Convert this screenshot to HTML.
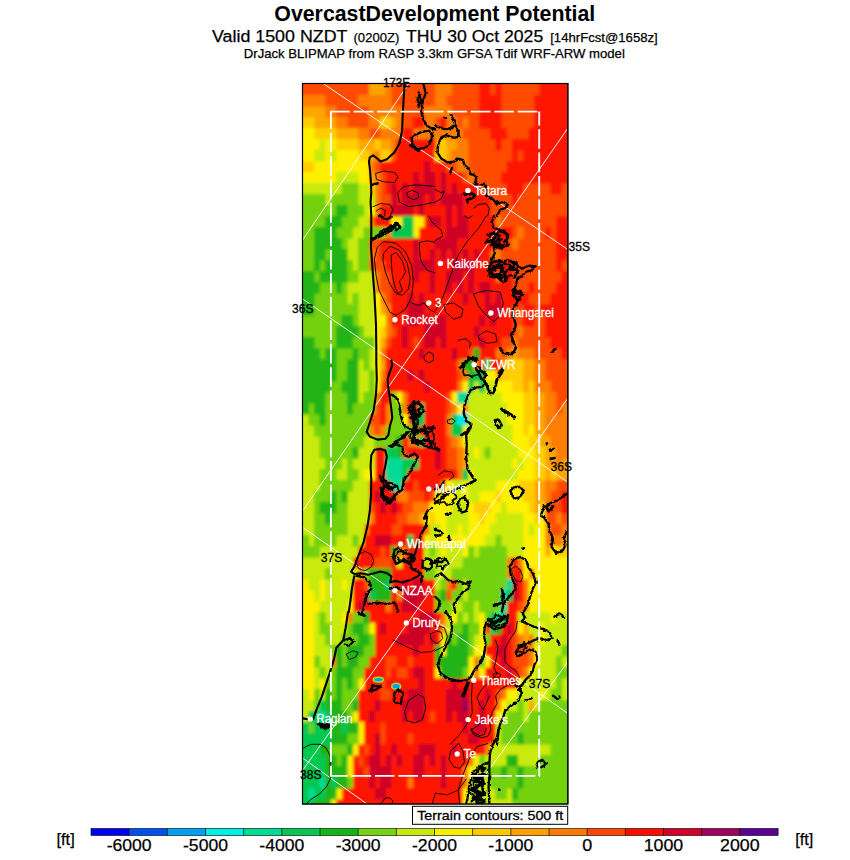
<!DOCTYPE html>
<html><head><meta charset="utf-8"><title>Overcast Development Potential</title>
<style>html,body{margin:0;padding:0;background:#fff;}svg{display:block}text{font-family:"Liberation Sans",sans-serif;}</style></head><body>
<svg width="850" height="860" viewBox="0 0 850 860">
<rect width="850" height="860" fill="#fff"/>
<text x="274.3" y="21.2" font-size="22" font-weight="bold" textLength="321" lengthAdjust="spacingAndGlyphs">OvercastDevelopment Potential</text>
<text x="212" y="42.2" font-size="17.4" textLength="135.4" lengthAdjust="spacingAndGlyphs" stroke="#000" stroke-width="0.25">Valid 1500 NZDT</text>
<text x="353.5" y="41.6" font-size="13" textLength="45.8" lengthAdjust="spacingAndGlyphs" stroke="#000" stroke-width="0.25">(0200Z)</text>
<text x="406" y="42.2" font-size="17.4" textLength="137.2" lengthAdjust="spacingAndGlyphs" stroke="#000" stroke-width="0.25">THU 30 Oct 2025</text>
<text x="550.2" y="42" font-size="13.4" textLength="107.6" lengthAdjust="spacingAndGlyphs" stroke="#000" stroke-width="0.25">[14hrFcst@1658z]</text>
<text x="243.8" y="57.6" font-size="12.7" textLength="381" lengthAdjust="spacingAndGlyphs" stroke="#000" stroke-width="0.25">DrJack BLIPMAP from RASP 3.3km GFSA Tdif WRF-ARW model</text>
<rect x="302.5" y="83.5" width="265.5" height="720.5" fill="#f33" stroke="#000" stroke-width="1"/>
<defs><clipPath id="mc"><rect x="302.5" y="83.5" width="265.5" height="720.5"/></clipPath><filter id="bl" x="-5%" y="-5%" width="110%" height="110%"><feGaussianBlur stdDeviation="1.6"/></filter></defs>
<g clip-path="url(#mc)"><g filter="url(#bl)">
<path fill="#ff4b00" d="M291 72h78.5v23.5h-78.5zM391 72h44.5v23.5h-44.5zM451.5 72h28v23.5h-28zM490 72h6v23.5h-6zM501 72h39v23.5h-39zM325 95h33.5v11.5h-33.5zM391 95h44.5v11.5h-44.5zM446 95h33.5v11.5h-33.5zM501 95h33.5v11.5h-33.5zM336 106h33.5v11.5h-33.5zM402 106h22.5v11.5h-22.5zM451.5 106h28v11.5h-28zM501 106h33.5v11.5h-33.5zM347 117h22.5v11.5h-22.5zM402 117h11.5v11.5h-11.5zM435 117h6v11.5h-6zM457 117h6v11.5h-6zM468 117h11.5v11.5h-11.5zM501 117h33.5v11.5h-33.5zM369 128h11.5v11.5h-11.5zM462.5 128h28v11.5h-28zM506.5 128h22.5v11.5h-22.5zM468 139h28v11.5h-28zM501 139h11.5v11.5h-11.5zM391 150h6v11.5h-6zM468 150h44.5v11.5h-44.5zM517.5 150h6v11.5h-6zM374.5 161h6v11.5h-6zM446 161h11.5v11.5h-11.5zM468 161h39v11.5h-39zM380 172h6v11.5h-6zM462.5 172h6v11.5h-6zM473.5 172h28v11.5h-28zM380 183h6v11.5h-6zM479 183h28v11.5h-28zM523 183h28v11.5h-28zM561.5 183h18v11.5h-18zM380 194h11.5v11.5h-11.5zM490 194h22.5v11.5h-22.5zM517.5 194h62v11.5h-62zM490 205h89.5v11.5h-89.5zM501 216h55.5v11.5h-55.5zM512 227h6v11.5h-6zM523 227h22.5v11.5h-22.5zM550.5 227h6v11.5h-6zM369 238h11.5v11.5h-11.5zM506.5 238h6v11.5h-6zM517.5 238h39v11.5h-39zM374.5 249h6v11.5h-6zM501 249h55.5v11.5h-55.5zM369 260h17v11.5h-17zM512 260h44.5v11.5h-44.5zM561.5 260h18v11.5h-18zM380 271h11.5v11.5h-11.5zM512 271h50v11.5h-50zM380 282h11.5v11.5h-11.5zM512 282h17v11.5h-17zM534 282h22.5v11.5h-22.5zM385.5 293h6v11.5h-6zM528.5 293h22.5v11.5h-22.5zM512 304h11.5v11.5h-11.5zM534 304h6v11.5h-6zM512 315h11.5v11.5h-11.5zM534 315h11.5v11.5h-11.5zM391 326h6v11.5h-6zM512 326h6v11.5h-6zM523 326h22.5v11.5h-22.5zM385.5 337h6v11.5h-6zM413 337h6v11.5h-6zM501 337h11.5v11.5h-11.5zM517.5 337h33.5v11.5h-33.5zM468 348h6v11.5h-6zM501 348h6v11.5h-6zM534 348h28v11.5h-28zM545 359h34.5v11.5h-34.5zM457 370h6v11.5h-6zM545 370h34.5v11.5h-34.5zM380 381h6v11.5h-6zM550.5 381h29v11.5h-29zM446 392h6v11.5h-6zM556 392h23.5v11.5h-23.5zM374.5 403h6v11.5h-6zM446 403h6v11.5h-6zM556 403h6v11.5h-6zM369 414h11.5v11.5h-11.5zM374.5 425h6v11.5h-6zM446 436h6v11.5h-6zM402 447h6v11.5h-6zM446 447h11.5v11.5h-11.5zM446 458h11.5v11.5h-11.5zM413 480h6v11.5h-6zM556 480h23.5v11.5h-23.5zM407.5 491h17v11.5h-17zM429.5 491h6v11.5h-6zM550.5 491h11.5v11.5h-11.5zM369 502h6v11.5h-6zM402 502h11.5v11.5h-11.5zM545 502h17v11.5h-17zM396.5 513h11.5v11.5h-11.5zM545 513h11.5v11.5h-11.5zM561.5 513h18v11.5h-18zM391 524h11.5v11.5h-11.5zM550.5 524h11.5v11.5h-11.5zM380 546h6v11.5h-6zM374.5 557h17v11.5h-17zM363.5 579h6v11.5h-6zM446 590h6v11.5h-6zM517.5 601h6v11.5h-6zM512 634h6v11.5h-6zM512 645h17v11.5h-17zM385.5 656h11.5v11.5h-11.5zM407.5 656h6v11.5h-6zM512 656h17v11.5h-17zM385.5 667h6v11.5h-6zM396.5 667h11.5v11.5h-11.5zM517.5 667h6v11.5h-6zM380 678h6v11.5h-6zM380 689h11.5v11.5h-11.5zM495.5 689h6v11.5h-6zM429.5 711h6v11.5h-6zM380 722h6v11.5h-6zM380 733h6v11.5h-6zM407.5 733h6v11.5h-6zM363.5 744h6v11.5h-6zM358 755h6v11.5h-6zM363.5 766h6v11.5h-6z"/>
<path fill="#ffa500" d="M369 72h17v23.5h-17zM291 106h34.5v11.5h-34.5zM314 117h22.5v11.5h-22.5zM391 117h6v11.5h-6zM336 128h22.5v11.5h-22.5zM358 139h17v11.5h-17zM380 139h11.5v11.5h-11.5zM435 139h6v11.5h-6zM446 139h11.5v11.5h-11.5zM369 150h6v11.5h-6zM446 150h6v11.5h-6zM369 172h6v11.5h-6zM380 304h6v11.5h-6zM380 337h6v11.5h-6zM512 348h6v11.5h-6zM380 359h6v11.5h-6zM501 359h6v11.5h-6zM523 359h11.5v11.5h-11.5zM495.5 370h6v11.5h-6zM523 370h11.5v11.5h-11.5zM523 381h6v11.5h-6zM534 392h11.5v11.5h-11.5zM534 403h11.5v11.5h-11.5zM534 414h11.5v11.5h-11.5zM534 425h11.5v11.5h-11.5zM457 436h6v11.5h-6zM539.5 436h11.5v11.5h-11.5zM462.5 447h6v11.5h-6zM545 447h11.5v11.5h-11.5zM462.5 458h6v11.5h-6zM545 458h11.5v11.5h-11.5zM561.5 458h18v11.5h-18zM545 469h6v11.5h-6zM556 469h23.5v11.5h-23.5zM534 480h11.5v11.5h-11.5zM534 491h11.5v11.5h-11.5zM534 502h6v11.5h-6zM418.5 513h6v11.5h-6zM561.5 535h18v11.5h-18zM545 546h6v11.5h-6zM440.5 623h6v11.5h-6zM523 623h6v11.5h-6zM523 634h6v11.5h-6zM528.5 700h6v11.5h-6z"/>
<path fill="#ff7d00" d="M385.5 72h6v23.5h-6zM435 72h17v23.5h-17zM291 95h34.5v11.5h-34.5zM358 95h33.5v11.5h-33.5zM435 95h11.5v11.5h-11.5zM325 106h11.5v11.5h-11.5zM369 106h33.5v11.5h-33.5zM424 106h28v11.5h-28zM336 117h11.5v11.5h-11.5zM369 117h11.5v11.5h-11.5zM396.5 117h6v11.5h-6zM424 117h11.5v11.5h-11.5zM446 117h11.5v11.5h-11.5zM462.5 117h6v11.5h-6zM358 128h11.5v11.5h-11.5zM380 128h22.5v11.5h-22.5zM413 128h50v11.5h-50zM391 139h6v11.5h-6zM457 139h11.5v11.5h-11.5zM374.5 150h6v11.5h-6zM451.5 150h17v11.5h-17zM369 161h6v11.5h-6zM457 161h11.5v11.5h-11.5zM374.5 172h6v11.5h-6zM468 172h6v11.5h-6zM374.5 183h6v11.5h-6zM374.5 194h6v11.5h-6zM374.5 205h6v11.5h-6zM369 216h6v11.5h-6zM495.5 216h6v11.5h-6zM385.5 227h6v11.5h-6zM517.5 227h6v11.5h-6zM512 238h6v11.5h-6zM369 249h6v11.5h-6zM490 249h11.5v11.5h-11.5zM374.5 271h6v11.5h-6zM495.5 271h6v11.5h-6zM374.5 282h6v11.5h-6zM380 293h6v11.5h-6zM385.5 304h6v11.5h-6zM385.5 315h6v11.5h-6zM385.5 326h6v11.5h-6zM517.5 326h6v11.5h-6zM512 337h6v11.5h-6zM380 348h6v11.5h-6zM495.5 348h6v11.5h-6zM506.5 348h6v11.5h-6zM517.5 348h17v11.5h-17zM457 359h6v11.5h-6zM473.5 359h6v11.5h-6zM534 359h11.5v11.5h-11.5zM380 370h6v11.5h-6zM462.5 370h6v11.5h-6zM534 370h11.5v11.5h-11.5zM457 381h6v11.5h-6zM534 381h17v11.5h-17zM374.5 392h6v11.5h-6zM402 392h6v11.5h-6zM545 392h11.5v11.5h-11.5zM385.5 403h6v11.5h-6zM402 403h6v11.5h-6zM451.5 403h6v11.5h-6zM462.5 403h6v11.5h-6zM545 403h11.5v11.5h-11.5zM561.5 403h18v11.5h-18zM385.5 414h6v11.5h-6zM446 414h6v11.5h-6zM545 414h34.5v11.5h-34.5zM369 425h6v11.5h-6zM380 425h6v11.5h-6zM446 425h6v11.5h-6zM545 425h34.5v11.5h-34.5zM407.5 436h11.5v11.5h-11.5zM451.5 436h6v11.5h-6zM550.5 436h29v11.5h-29zM457 447h6v11.5h-6zM556 447h23.5v11.5h-23.5zM457 458h6v11.5h-6zM556 458h6v11.5h-6zM457 469h6v11.5h-6zM440.5 480h6v11.5h-6zM545 480h11.5v11.5h-11.5zM396.5 491h11.5v11.5h-11.5zM545 491h6v11.5h-6zM413 502h17v11.5h-17zM369 513h6v11.5h-6zM407.5 513h11.5v11.5h-11.5zM556 513h6v11.5h-6zM363.5 524h6v11.5h-6zM424 524h6v11.5h-6zM545 524h6v11.5h-6zM561.5 524h18v11.5h-18zM545 535h17v11.5h-17zM396.5 546h11.5v11.5h-11.5zM506.5 557h6v11.5h-6zM517.5 557h6v11.5h-6zM358 568h6v11.5h-6zM506.5 568h6v11.5h-6zM528.5 568h6v11.5h-6zM446 579h6v11.5h-6zM523 579h6v11.5h-6zM396.5 590h6v11.5h-6zM523 590h6v11.5h-6zM385.5 601h6v11.5h-6zM523 601h6v11.5h-6zM347 612h6v11.5h-6zM440.5 612h6v11.5h-6zM517.5 634h6v11.5h-6zM528.5 634h6v11.5h-6zM528.5 645h6v11.5h-6zM330.5 656h6v11.5h-6zM473.5 656h6v11.5h-6zM528.5 656h6v11.5h-6zM473.5 667h6v11.5h-6zM523 667h6v11.5h-6zM501 689h6v11.5h-6zM495.5 700h6v11.5h-6zM484.5 744h6v11.5h-6zM468 755h6v11.5h-6zM462.5 766h6v11.5h-6zM407.5 777h6v11.5h-6zM462.5 777h6v11.5h-6z"/>
<path fill="#ff1400" d="M479 72h11.5v23.5h-11.5zM495.5 72h6v23.5h-6zM539.5 72h40v23.5h-40zM479 95h22.5v11.5h-22.5zM534 95h45.5v11.5h-45.5zM479 106h22.5v11.5h-22.5zM534 106h45.5v11.5h-45.5zM413 117h11.5v11.5h-11.5zM440.5 117h6v11.5h-6zM479 117h22.5v11.5h-22.5zM534 117h45.5v11.5h-45.5zM402 128h11.5v11.5h-11.5zM490 128h17v11.5h-17zM528.5 128h51v11.5h-51zM396.5 139h39v11.5h-39zM495.5 139h6v11.5h-6zM512 139h67.5v11.5h-67.5zM396.5 150h39v11.5h-39zM512 150h6v11.5h-6zM523 150h56.5v11.5h-56.5zM380 161h44.5v11.5h-44.5zM429.5 161h17v11.5h-17zM506.5 161h73v11.5h-73zM385.5 172h28v11.5h-28zM418.5 172h6v11.5h-6zM435 172h6v11.5h-6zM446 172h17v11.5h-17zM501 172h78.5v11.5h-78.5zM385.5 183h6v11.5h-6zM396.5 183h6v11.5h-6zM407.5 183h6v11.5h-6zM435 183h6v11.5h-6zM446 183h6v11.5h-6zM457 183h22.5v11.5h-22.5zM506.5 183h17v11.5h-17zM550.5 183h11.5v11.5h-11.5zM396.5 194h6v11.5h-6zM424 194h6v11.5h-6zM435 194h6v11.5h-6zM462.5 194h28v11.5h-28zM512 194h6v11.5h-6zM380 205h11.5v11.5h-11.5zM413 205h6v11.5h-6zM424 205h22.5v11.5h-22.5zM451.5 205h6v11.5h-6zM462.5 205h28v11.5h-28zM374.5 216h17v11.5h-17zM424 216h6v11.5h-6zM440.5 216h6v11.5h-6zM451.5 216h6v11.5h-6zM468 216h28v11.5h-28zM556 216h23.5v11.5h-23.5zM418.5 227h28v11.5h-28zM468 227h44.5v11.5h-44.5zM545 227h6v11.5h-6zM556 227h23.5v11.5h-23.5zM380 238h33.5v11.5h-33.5zM418.5 238h17v11.5h-17zM457 238h50v11.5h-50zM556 238h23.5v11.5h-23.5zM380 249h33.5v11.5h-33.5zM418.5 249h11.5v11.5h-11.5zM435 249h6v11.5h-6zM446 249h6v11.5h-6zM457 249h6v11.5h-6zM468 249h6v11.5h-6zM479 249h11.5v11.5h-11.5zM556 249h23.5v11.5h-23.5zM385.5 260h28v11.5h-28zM435 260h17v11.5h-17zM473.5 260h39v11.5h-39zM556 260h6v11.5h-6zM391 271h22.5v11.5h-22.5zM418.5 271h11.5v11.5h-11.5zM435 271h11.5v11.5h-11.5zM462.5 271h6v11.5h-6zM473.5 271h22.5v11.5h-22.5zM501 271h11.5v11.5h-11.5zM561.5 271h18v11.5h-18zM391 282h39v11.5h-39zM435 282h11.5v11.5h-11.5zM451.5 282h6v11.5h-6zM462.5 282h6v11.5h-6zM473.5 282h6v11.5h-6zM490 282h22.5v11.5h-22.5zM528.5 282h6v11.5h-6zM556 282h23.5v11.5h-23.5zM391 293h17v11.5h-17zM413 293h6v11.5h-6zM424 293h39v11.5h-39zM468 293h17v11.5h-17zM490 293h6v11.5h-6zM501 293h28v11.5h-28zM550.5 293h29v11.5h-29zM391 304h17v11.5h-17zM424 304h61v11.5h-61zM501 304h11.5v11.5h-11.5zM523 304h11.5v11.5h-11.5zM539.5 304h40v11.5h-40zM391 315h17v11.5h-17zM418.5 315h6v11.5h-6zM429.5 315h6v11.5h-6zM446 315h33.5v11.5h-33.5zM484.5 315h6v11.5h-6zM495.5 315h17v11.5h-17zM523 315h11.5v11.5h-11.5zM545 315h34.5v11.5h-34.5zM396.5 326h6v11.5h-6zM407.5 326h17v11.5h-17zM446 326h28v11.5h-28zM479 326h33.5v11.5h-33.5zM545 326h34.5v11.5h-34.5zM391 337h11.5v11.5h-11.5zM407.5 337h6v11.5h-6zM418.5 337h6v11.5h-6zM435 337h6v11.5h-6zM446 337h33.5v11.5h-33.5zM484.5 337h17v11.5h-17zM550.5 337h29v11.5h-29zM385.5 348h33.5v11.5h-33.5zM424 348h28v11.5h-28zM457 348h11.5v11.5h-11.5zM479 348h17v11.5h-17zM561.5 348h18v11.5h-18zM385.5 359h72v11.5h-72zM479 359h6v11.5h-6zM490 359h11.5v11.5h-11.5zM385.5 370h22.5v11.5h-22.5zM413 370h6v11.5h-6zM424 370h33.5v11.5h-33.5zM385.5 381h39v11.5h-39zM429.5 381h28v11.5h-28zM380 392h11.5v11.5h-11.5zM407.5 392h39v11.5h-39zM380 403h6v11.5h-6zM407.5 403h11.5v11.5h-11.5zM424 403h22.5v11.5h-22.5zM380 414h6v11.5h-6zM407.5 414h6v11.5h-6zM424 414h22.5v11.5h-22.5zM418.5 425h28v11.5h-28zM402 436h6v11.5h-6zM424 436h22.5v11.5h-22.5zM374.5 447h11.5v11.5h-11.5zM407.5 447h28v11.5h-28zM440.5 447h6v11.5h-6zM374.5 458h11.5v11.5h-11.5zM418.5 458h17v11.5h-17zM440.5 458h6v11.5h-6zM374.5 469h11.5v11.5h-11.5zM407.5 469h50v11.5h-50zM369 480h17v11.5h-17zM402 480h11.5v11.5h-11.5zM418.5 480h22.5v11.5h-22.5zM369 491h6v11.5h-6zM380 491h17v11.5h-17zM424 491h6v11.5h-6zM561.5 491h18v11.5h-18zM374.5 502h6v11.5h-6zM385.5 502h6v11.5h-6zM396.5 502h6v11.5h-6zM561.5 502h18v11.5h-18zM374.5 513h22.5v11.5h-22.5zM369 524h22.5v11.5h-22.5zM402 524h22.5v11.5h-22.5zM363.5 535h11.5v11.5h-11.5zM391 535h17v11.5h-17zM413 535h11.5v11.5h-11.5zM358 546h22.5v11.5h-22.5zM385.5 546h6v11.5h-6zM407.5 546h17v11.5h-17zM352.5 557h22.5v11.5h-22.5zM391 557h6v11.5h-6zM402 557h22.5v11.5h-22.5zM512 557h6v11.5h-6zM391 568h33.5v11.5h-33.5zM512 568h11.5v11.5h-11.5zM352.5 579h11.5v11.5h-11.5zM391 579h11.5v11.5h-11.5zM407.5 579h6v11.5h-6zM424 579h11.5v11.5h-11.5zM451.5 579h6v11.5h-6zM517.5 579h6v11.5h-6zM352.5 590h11.5v11.5h-11.5zM391 590h6v11.5h-6zM424 590h11.5v11.5h-11.5zM517.5 590h6v11.5h-6zM352.5 601h6v11.5h-6zM363.5 601h22.5v11.5h-22.5zM391 601h11.5v11.5h-11.5zM418.5 601h17v11.5h-17zM506.5 601h11.5v11.5h-11.5zM369 612h50v11.5h-50zM435 612h6v11.5h-6zM506.5 612h11.5v11.5h-11.5zM374.5 623h6v11.5h-6zM385.5 623h22.5v11.5h-22.5zM429.5 623h11.5v11.5h-11.5zM484.5 623h6v11.5h-6zM501 623h6v11.5h-6zM512 623h6v11.5h-6zM374.5 634h22.5v11.5h-22.5zM424 634h6v11.5h-6zM435 634h6v11.5h-6zM490 634h11.5v11.5h-11.5zM506.5 634h6v11.5h-6zM374.5 645h39v11.5h-39zM418.5 645h17v11.5h-17zM484.5 645h11.5v11.5h-11.5zM506.5 645h6v11.5h-6zM369 656h17v11.5h-17zM396.5 656h11.5v11.5h-11.5zM413 656h22.5v11.5h-22.5zM490 656h11.5v11.5h-11.5zM506.5 656h6v11.5h-6zM363.5 667h22.5v11.5h-22.5zM391 667h6v11.5h-6zM407.5 667h6v11.5h-6zM424 667h11.5v11.5h-11.5zM484.5 667h22.5v11.5h-22.5zM512 667h6v11.5h-6zM363.5 678h17v11.5h-17zM385.5 678h33.5v11.5h-33.5zM424 678h28v11.5h-28zM457 678h61v11.5h-61zM358 689h22.5v11.5h-22.5zM391 689h17v11.5h-17zM424 689h22.5v11.5h-22.5zM468 689h17v11.5h-17zM490 689h6v11.5h-6zM358 700h17v11.5h-17zM380 700h22.5v11.5h-22.5zM424 700h22.5v11.5h-22.5zM468 700h11.5v11.5h-11.5zM484.5 700h11.5v11.5h-11.5zM358 711h11.5v11.5h-11.5zM374.5 711h28v11.5h-28zM407.5 711h6v11.5h-6zM424 711h6v11.5h-6zM435 711h11.5v11.5h-11.5zM451.5 711h6v11.5h-6zM468 711h11.5v11.5h-11.5zM484.5 711h11.5v11.5h-11.5zM363.5 722h17v11.5h-17zM385.5 722h77.5v11.5h-77.5zM468 722h6v11.5h-6zM484.5 722h11.5v11.5h-11.5zM363.5 733h11.5v11.5h-11.5zM385.5 733h22.5v11.5h-22.5zM413 733h55.5v11.5h-55.5zM479 733h17v11.5h-17zM358 744h6v11.5h-6zM369 744h6v11.5h-6zM380 744h11.5v11.5h-11.5zM396.5 744h22.5v11.5h-22.5zM435 744h17v11.5h-17zM457 744h28v11.5h-28zM352.5 755h6v11.5h-6zM363.5 755h6v11.5h-6zM380 755h6v11.5h-6zM391 755h6v11.5h-6zM402 755h11.5v11.5h-11.5zM424 755h6v11.5h-6zM435 755h6v11.5h-6zM446 755h22.5v11.5h-22.5zM352.5 766h11.5v11.5h-11.5zM391 766h22.5v11.5h-22.5zM424 766h17v11.5h-17zM446 766h17v11.5h-17zM352.5 777h17v11.5h-17zM374.5 777h6v11.5h-6zM391 777h17v11.5h-17zM413 777h28v11.5h-28zM446 777h17v11.5h-17zM341.5 788h33.5v11.5h-33.5zM385.5 788h77.5v11.5h-77.5zM336 799h127v23.5h-127z"/>
<path fill="#ffcd00" d="M291 117h23.5v11.5h-23.5zM380 117h11.5v11.5h-11.5zM314 128h22.5v11.5h-22.5zM336 139h22.5v11.5h-22.5zM374.5 139h6v11.5h-6zM440.5 139h6v11.5h-6zM358 150h11.5v11.5h-11.5zM380 150h11.5v11.5h-11.5zM435 150h11.5v11.5h-11.5zM291 161h23.5v11.5h-23.5zM369 183h6v11.5h-6zM380 326h6v11.5h-6zM506.5 359h17v11.5h-17zM501 370h22.5v11.5h-22.5zM512 381h11.5v11.5h-11.5zM528.5 381h6v11.5h-6zM523 392h11.5v11.5h-11.5zM523 403h11.5v11.5h-11.5zM523 414h11.5v11.5h-11.5zM523 425h6v11.5h-6zM528.5 436h11.5v11.5h-11.5zM534 447h11.5v11.5h-11.5zM534 458h11.5v11.5h-11.5zM534 469h11.5v11.5h-11.5zM550.5 469h6v11.5h-6zM517.5 480h17v11.5h-17zM495.5 491h6v11.5h-6zM523 491h11.5v11.5h-11.5zM473.5 502h17v11.5h-17zM528.5 502h6v11.5h-6zM539.5 502h6v11.5h-6zM429.5 513h6v11.5h-6zM479 513h6v11.5h-6zM534 513h6v11.5h-6zM556 546h23.5v11.5h-23.5z"/>
<path fill="#fff000" d="M291 128h23.5v11.5h-23.5zM291 139h29v11.5h-29zM325 139h11.5v11.5h-11.5zM291 150h23.5v11.5h-23.5zM325 150h6v11.5h-6zM336 150h22.5v11.5h-22.5zM314 161h55.5v11.5h-55.5zM291 172h45.5v11.5h-45.5zM358 172h11.5v11.5h-11.5zM369 205h6v11.5h-6zM391 216h11.5v11.5h-11.5zM413 216h11.5v11.5h-11.5zM413 227h6v11.5h-6zM374.5 293h6v11.5h-6zM374.5 304h6v11.5h-6zM374.5 315h11.5v11.5h-11.5zM374.5 326h6v11.5h-6zM374.5 337h6v11.5h-6zM374.5 348h6v11.5h-6zM374.5 359h6v11.5h-6zM374.5 370h6v11.5h-6zM484.5 370h11.5v11.5h-11.5zM374.5 381h6v11.5h-6zM462.5 381h6v11.5h-6zM495.5 381h17v11.5h-17zM396.5 392h6v11.5h-6zM451.5 392h6v11.5h-6zM501 392h22.5v11.5h-22.5zM457 403h6v11.5h-6zM506.5 403h17v11.5h-17zM402 414h6v11.5h-6zM506.5 414h17v11.5h-17zM462.5 425h6v11.5h-6zM512 425h11.5v11.5h-11.5zM528.5 425h6v11.5h-6zM462.5 436h6v11.5h-6zM512 436h17v11.5h-17zM473.5 447h6v11.5h-6zM517.5 447h17v11.5h-17zM512 458h6v11.5h-6zM523 458h11.5v11.5h-11.5zM363.5 469h11.5v11.5h-11.5zM468 469h6v11.5h-6zM517.5 469h17v11.5h-17zM446 480h6v11.5h-6zM462.5 480h6v11.5h-6zM495.5 480h22.5v11.5h-22.5zM435 491h22.5v11.5h-22.5zM462.5 491h6v11.5h-6zM479 491h17v11.5h-17zM501 491h22.5v11.5h-22.5zM429.5 502h22.5v11.5h-22.5zM468 502h6v11.5h-6zM490 502h11.5v11.5h-11.5zM506.5 502h22.5v11.5h-22.5zM424 513h6v11.5h-6zM435 513h11.5v11.5h-11.5zM468 513h11.5v11.5h-11.5zM484.5 513h11.5v11.5h-11.5zM523 513h11.5v11.5h-11.5zM539.5 513h6v11.5h-6zM440.5 524h6v11.5h-6zM457 524h6v11.5h-6zM468 524h22.5v11.5h-22.5zM523 524h6v11.5h-6zM534 524h11.5v11.5h-11.5zM424 535h6v11.5h-6zM435 535h50v11.5h-50zM523 535h22.5v11.5h-22.5zM440.5 546h6v11.5h-6zM462.5 546h6v11.5h-6zM523 546h22.5v11.5h-22.5zM550.5 546h6v11.5h-6zM523 557h56.5v11.5h-56.5zM523 568h6v11.5h-6zM534 568h45.5v11.5h-45.5zM291 579h18v11.5h-18zM319.5 579h6v11.5h-6zM341.5 579h6v11.5h-6zM528.5 579h51v11.5h-51zM291 590h23.5v11.5h-23.5zM319.5 590h6v11.5h-6zM528.5 590h51v11.5h-51zM291 601h29v11.5h-29zM347 601h6v11.5h-6zM528.5 601h51v11.5h-51zM291 612h23.5v11.5h-23.5zM341.5 612h6v11.5h-6zM451.5 612h6v11.5h-6zM479 612h6v11.5h-6zM550.5 612h6v11.5h-6zM291 623h23.5v11.5h-23.5zM369 623h6v11.5h-6zM479 623h6v11.5h-6zM517.5 623h6v11.5h-6zM539.5 623h6v11.5h-6zM291 634h23.5v11.5h-23.5zM440.5 634h6v11.5h-6zM479 634h6v11.5h-6zM539.5 634h6v11.5h-6zM291 645h23.5v11.5h-23.5zM440.5 645h6v11.5h-6zM473.5 645h11.5v11.5h-11.5zM534 645h6v11.5h-6zM291 656h23.5v11.5h-23.5zM468 656h6v11.5h-6zM484.5 656h6v11.5h-6zM534 656h6v11.5h-6zM291 667h23.5v11.5h-23.5zM435 667h6v11.5h-6zM468 667h6v11.5h-6zM479 667h6v11.5h-6zM528.5 667h6v11.5h-6zM291 678h23.5v11.5h-23.5zM319.5 678h6v11.5h-6zM358 678h6v11.5h-6zM517.5 678h6v11.5h-6zM308.5 689h6v11.5h-6zM506.5 689h11.5v11.5h-11.5zM539.5 689h6v11.5h-6zM501 700h6v11.5h-6zM352.5 711h6v11.5h-6zM495.5 711h6v11.5h-6zM358 722h6v11.5h-6zM358 733h6v11.5h-6zM352.5 744h6v11.5h-6zM347 755h6v11.5h-6zM473.5 755h6v11.5h-6zM347 766h6v11.5h-6zM468 766h6v11.5h-6zM336 788h6v11.5h-6zM462.5 788h6v11.5h-6zM330.5 799h6v23.5h-6zM462.5 799h6v23.5h-6z"/>
<path fill="#c8eb0a" d="M319.5 139h6v11.5h-6zM314 150h11.5v11.5h-11.5zM330.5 150h6v11.5h-6zM336 172h22.5v11.5h-22.5zM291 183h51v11.5h-51zM358 183h11.5v11.5h-11.5zM325 194h6v11.5h-6zM358 194h17v11.5h-17zM363.5 205h6v11.5h-6zM358 216h11.5v11.5h-11.5zM352.5 227h11.5v11.5h-11.5zM347 238h11.5v11.5h-11.5zM347 249h11.5v11.5h-11.5zM352.5 260h6v11.5h-6zM358 271h17v11.5h-17zM347 282h28v11.5h-28zM347 293h6v11.5h-6zM358 293h17v11.5h-17zM358 304h17v11.5h-17zM358 315h17v11.5h-17zM363.5 326h11.5v11.5h-11.5zM369 348h6v11.5h-6zM358 359h6v11.5h-6zM369 359h6v11.5h-6zM358 370h11.5v11.5h-11.5zM358 381h11.5v11.5h-11.5zM473.5 381h6v11.5h-6zM484.5 381h11.5v11.5h-11.5zM358 392h6v11.5h-6zM468 392h33.5v11.5h-33.5zM468 403h39v11.5h-39zM291 414h18v11.5h-18zM468 414h39v11.5h-39zM291 425h23.5v11.5h-23.5zM468 425h44.5v11.5h-44.5zM291 436h29v11.5h-29zM363.5 436h11.5v11.5h-11.5zM468 436h44.5v11.5h-44.5zM291 447h29v11.5h-29zM358 447h17v11.5h-17zM468 447h6v11.5h-6zM479 447h6v11.5h-6zM490 447h28v11.5h-28zM291 458h34.5v11.5h-34.5zM341.5 458h6v11.5h-6zM352.5 458h22.5v11.5h-22.5zM468 458h44.5v11.5h-44.5zM517.5 458h6v11.5h-6zM291 469h29v11.5h-29zM336 469h11.5v11.5h-11.5zM358 469h6v11.5h-6zM473.5 469h44.5v11.5h-44.5zM291 480h29v11.5h-29zM352.5 480h17v11.5h-17zM451.5 480h11.5v11.5h-11.5zM468 480h28v11.5h-28zM291 491h23.5v11.5h-23.5zM347 491h22.5v11.5h-22.5zM457 491h6v11.5h-6zM468 491h11.5v11.5h-11.5zM291 502h23.5v11.5h-23.5zM347 502h22.5v11.5h-22.5zM451.5 502h17v11.5h-17zM501 502h6v11.5h-6zM291 513h23.5v11.5h-23.5zM347 513h22.5v11.5h-22.5zM446 513h22.5v11.5h-22.5zM495.5 513h28v11.5h-28zM291 524h23.5v11.5h-23.5zM347 524h17v11.5h-17zM429.5 524h11.5v11.5h-11.5zM446 524h11.5v11.5h-11.5zM462.5 524h6v11.5h-6zM490 524h33.5v11.5h-33.5zM528.5 524h6v11.5h-6zM308.5 535h6v11.5h-6zM336 535h17v11.5h-17zM358 535h6v11.5h-6zM429.5 535h6v11.5h-6zM484.5 535h11.5v11.5h-11.5zM501 535h22.5v11.5h-22.5zM319.5 546h39v11.5h-39zM424 546h6v11.5h-6zM435 546h6v11.5h-6zM446 546h17v11.5h-17zM473.5 546h6v11.5h-6zM506.5 546h17v11.5h-17zM291 557h62v11.5h-62zM396.5 557h6v11.5h-6zM424 557h39v11.5h-39zM291 568h34.5v11.5h-34.5zM330.5 568h28v11.5h-28zM435 568h17v11.5h-17zM308.5 579h11.5v11.5h-11.5zM325 579h17v11.5h-17zM347 579h6v11.5h-6zM435 579h6v11.5h-6zM462.5 579h6v11.5h-6zM314 590h6v11.5h-6zM325 590h28v11.5h-28zM462.5 590h6v11.5h-6zM319.5 601h28v11.5h-28zM451.5 601h11.5v11.5h-11.5zM473.5 601h6v11.5h-6zM314 612h6v11.5h-6zM325 612h17v11.5h-17zM446 612h6v11.5h-6zM462.5 612h6v11.5h-6zM473.5 612h6v11.5h-6zM517.5 612h33.5v11.5h-33.5zM556 612h23.5v11.5h-23.5zM314 623h6v11.5h-6zM330.5 623h17v11.5h-17zM446 623h6v11.5h-6zM528.5 623h11.5v11.5h-11.5zM545 623h34.5v11.5h-34.5zM314 634h11.5v11.5h-11.5zM330.5 634h11.5v11.5h-11.5zM473.5 634h6v11.5h-6zM534 634h6v11.5h-6zM545 634h34.5v11.5h-34.5zM314 645h17v11.5h-17zM539.5 645h22.5v11.5h-22.5zM319.5 656h11.5v11.5h-11.5zM539.5 656h17v11.5h-17zM561.5 656h18v11.5h-18zM314 667h6v11.5h-6zM325 667h6v11.5h-6zM534 667h22.5v11.5h-22.5zM314 678h6v11.5h-6zM523 678h33.5v11.5h-33.5zM561.5 678h18v11.5h-18zM291 689h18v11.5h-18zM319.5 689h6v11.5h-6zM517.5 689h22.5v11.5h-22.5zM545 689h6v11.5h-6zM561.5 689h18v11.5h-18zM291 700h23.5v11.5h-23.5zM506.5 700h11.5v11.5h-11.5zM523 700h6v11.5h-6zM534 700h6v11.5h-6zM291 711h18v11.5h-18zM501 711h6v11.5h-6zM523 711h6v11.5h-6zM495.5 722h6v11.5h-6zM495.5 733h6v11.5h-6zM490 744h61v11.5h-61zM484.5 755h22.5v11.5h-22.5zM517.5 755h22.5v11.5h-22.5zM473.5 766h11.5v11.5h-11.5zM468 777h22.5v11.5h-22.5zM468 788h28v11.5h-28zM506.5 788h6v11.5h-6zM468 799h44.5v23.5h-44.5z"/>
<path fill="#cd0028" d="M424 161h6v11.5h-6zM413 172h6v11.5h-6zM424 172h11.5v11.5h-11.5zM440.5 172h6v11.5h-6zM391 183h6v11.5h-6zM402 183h6v11.5h-6zM413 183h22.5v11.5h-22.5zM440.5 183h6v11.5h-6zM451.5 183h6v11.5h-6zM391 194h6v11.5h-6zM402 194h22.5v11.5h-22.5zM429.5 194h6v11.5h-6zM440.5 194h22.5v11.5h-22.5zM391 205h22.5v11.5h-22.5zM418.5 205h6v11.5h-6zM446 205h6v11.5h-6zM457 205h6v11.5h-6zM429.5 216h11.5v11.5h-11.5zM446 216h6v11.5h-6zM457 216h11.5v11.5h-11.5zM446 227h22.5v11.5h-22.5zM413 238h6v11.5h-6zM435 238h22.5v11.5h-22.5zM413 249h6v11.5h-6zM429.5 249h6v11.5h-6zM440.5 249h6v11.5h-6zM451.5 249h6v11.5h-6zM462.5 249h6v11.5h-6zM473.5 249h6v11.5h-6zM413 260h22.5v11.5h-22.5zM451.5 260h22.5v11.5h-22.5zM413 271h6v11.5h-6zM429.5 271h6v11.5h-6zM446 271h17v11.5h-17zM468 271h6v11.5h-6zM429.5 282h6v11.5h-6zM446 282h6v11.5h-6zM457 282h6v11.5h-6zM468 282h6v11.5h-6zM479 282h11.5v11.5h-11.5zM407.5 293h6v11.5h-6zM418.5 293h6v11.5h-6zM462.5 293h6v11.5h-6zM484.5 293h6v11.5h-6zM495.5 293h6v11.5h-6zM407.5 304h17v11.5h-17zM484.5 304h17v11.5h-17zM407.5 315h11.5v11.5h-11.5zM424 315h6v11.5h-6zM435 315h11.5v11.5h-11.5zM479 315h6v11.5h-6zM490 315h6v11.5h-6zM402 326h6v11.5h-6zM424 326h22.5v11.5h-22.5zM473.5 326h6v11.5h-6zM402 337h6v11.5h-6zM424 337h11.5v11.5h-11.5zM440.5 337h6v11.5h-6zM479 337h6v11.5h-6zM418.5 348h6v11.5h-6zM451.5 348h6v11.5h-6zM407.5 370h6v11.5h-6zM418.5 370h6v11.5h-6zM424 381h6v11.5h-6zM435 447h6v11.5h-6zM435 458h6v11.5h-6zM385.5 480h6v11.5h-6zM374.5 491h6v11.5h-6zM380 502h6v11.5h-6zM391 502h6v11.5h-6zM374.5 535h17v11.5h-17zM402 579h6v11.5h-6zM413 579h11.5v11.5h-11.5zM512 579h6v11.5h-6zM363.5 590h6v11.5h-6zM402 590h22.5v11.5h-22.5zM512 590h6v11.5h-6zM358 601h6v11.5h-6zM402 601h17v11.5h-17zM418.5 612h17v11.5h-17zM380 623h6v11.5h-6zM407.5 623h22.5v11.5h-22.5zM506.5 623h6v11.5h-6zM396.5 634h28v11.5h-28zM429.5 634h6v11.5h-6zM501 634h6v11.5h-6zM413 645h6v11.5h-6zM495.5 645h11.5v11.5h-11.5zM501 656h6v11.5h-6zM413 667h11.5v11.5h-11.5zM506.5 667h6v11.5h-6zM418.5 678h6v11.5h-6zM451.5 678h6v11.5h-6zM407.5 689h17v11.5h-17zM446 689h22.5v11.5h-22.5zM484.5 689h6v11.5h-6zM374.5 700h6v11.5h-6zM402 700h22.5v11.5h-22.5zM446 700h17v11.5h-17zM479 700h6v11.5h-6zM369 711h6v11.5h-6zM402 711h6v11.5h-6zM413 711h11.5v11.5h-11.5zM446 711h6v11.5h-6zM457 711h11.5v11.5h-11.5zM479 711h6v11.5h-6zM462.5 722h6v11.5h-6zM473.5 722h11.5v11.5h-11.5zM374.5 733h6v11.5h-6zM468 733h11.5v11.5h-11.5zM374.5 744h6v11.5h-6zM391 744h6v11.5h-6zM418.5 744h17v11.5h-17zM451.5 744h6v11.5h-6zM369 755h11.5v11.5h-11.5zM385.5 755h6v11.5h-6zM396.5 755h6v11.5h-6zM413 755h11.5v11.5h-11.5zM429.5 755h6v11.5h-6zM440.5 755h6v11.5h-6zM369 766h22.5v11.5h-22.5zM413 766h11.5v11.5h-11.5zM440.5 766h6v11.5h-6zM369 777h6v11.5h-6zM380 777h11.5v11.5h-11.5zM440.5 777h6v11.5h-6zM374.5 788h11.5v11.5h-11.5z"/>
<path fill="#73d20f" d="M341.5 183h17v11.5h-17zM291 194h34.5v11.5h-34.5zM330.5 194h28v11.5h-28zM291 205h45.5v11.5h-45.5zM347 205h17v11.5h-17zM291 216h34.5v11.5h-34.5zM341.5 216h17v11.5h-17zM291 227h23.5v11.5h-23.5zM336 227h17v11.5h-17zM363.5 227h22.5v11.5h-22.5zM291 238h23.5v11.5h-23.5zM341.5 238h6v11.5h-6zM358 238h11.5v11.5h-11.5zM291 249h23.5v11.5h-23.5zM325 249h6v11.5h-6zM358 249h11.5v11.5h-11.5zM291 260h23.5v11.5h-23.5zM319.5 260h6v11.5h-6zM347 260h6v11.5h-6zM358 260h11.5v11.5h-11.5zM314 271h6v11.5h-6zM347 271h11.5v11.5h-11.5zM319.5 282h17v11.5h-17zM341.5 282h6v11.5h-6zM314 293h33.5v11.5h-33.5zM352.5 293h6v11.5h-6zM314 304h44.5v11.5h-44.5zM291 315h51v11.5h-51zM352.5 315h6v11.5h-6zM291 326h45.5v11.5h-45.5zM358 326h6v11.5h-6zM314 337h22.5v11.5h-22.5zM352.5 337h22.5v11.5h-22.5zM319.5 348h6v11.5h-6zM336 348h17v11.5h-17zM358 348h11.5v11.5h-11.5zM336 359h11.5v11.5h-11.5zM363.5 359h6v11.5h-6zM336 370h11.5v11.5h-11.5zM369 370h6v11.5h-6zM330.5 381h11.5v11.5h-11.5zM369 381h6v11.5h-6zM325 392h22.5v11.5h-22.5zM363.5 392h11.5v11.5h-11.5zM391 392h6v11.5h-6zM308.5 403h6v11.5h-6zM325 403h22.5v11.5h-22.5zM352.5 403h22.5v11.5h-22.5zM391 403h11.5v11.5h-11.5zM308.5 414h11.5v11.5h-11.5zM325 414h44.5v11.5h-44.5zM391 414h11.5v11.5h-11.5zM314 425h55.5v11.5h-55.5zM385.5 425h33.5v11.5h-33.5zM319.5 436h44.5v11.5h-44.5zM374.5 436h22.5v11.5h-22.5zM319.5 447h33.5v11.5h-33.5zM484.5 447h6v11.5h-6zM325 458h17v11.5h-17zM347 458h6v11.5h-6zM319.5 469h17v11.5h-17zM347 469h11.5v11.5h-11.5zM319.5 480h33.5v11.5h-33.5zM314 491h17v11.5h-17zM336 491h6v11.5h-6zM314 502h6v11.5h-6zM336 502h11.5v11.5h-11.5zM314 513h11.5v11.5h-11.5zM330.5 513h17v11.5h-17zM314 524h33.5v11.5h-33.5zM291 535h18v11.5h-18zM314 535h22.5v11.5h-22.5zM352.5 535h6v11.5h-6zM495.5 535h6v11.5h-6zM291 546h29v11.5h-29zM429.5 546h6v11.5h-6zM468 546h6v11.5h-6zM479 546h28v11.5h-28zM462.5 557h44.5v11.5h-44.5zM325 568h6v11.5h-6zM363.5 568h6v11.5h-6zM424 568h11.5v11.5h-11.5zM451.5 568h55.5v11.5h-55.5zM440.5 579h6v11.5h-6zM457 579h6v11.5h-6zM468 579h39v11.5h-39zM435 590h6v11.5h-6zM451.5 590h11.5v11.5h-11.5zM468 590h33.5v11.5h-33.5zM435 601h17v11.5h-17zM462.5 601h11.5v11.5h-11.5zM479 601h22.5v11.5h-22.5zM319.5 612h6v11.5h-6zM352.5 612h11.5v11.5h-11.5zM457 612h6v11.5h-6zM468 612h6v11.5h-6zM484.5 612h6v11.5h-6zM319.5 623h11.5v11.5h-11.5zM347 623h6v11.5h-6zM363.5 623h6v11.5h-6zM451.5 623h11.5v11.5h-11.5zM468 623h11.5v11.5h-11.5zM325 634h6v11.5h-6zM341.5 634h17v11.5h-17zM369 634h6v11.5h-6zM451.5 634h6v11.5h-6zM468 634h6v11.5h-6zM484.5 634h6v11.5h-6zM330.5 645h6v11.5h-6zM341.5 645h6v11.5h-6zM363.5 645h11.5v11.5h-11.5zM468 645h6v11.5h-6zM561.5 645h18v11.5h-18zM314 656h6v11.5h-6zM341.5 656h6v11.5h-6zM358 656h11.5v11.5h-11.5zM479 656h6v11.5h-6zM556 656h6v11.5h-6zM319.5 667h6v11.5h-6zM330.5 667h6v11.5h-6zM352.5 667h11.5v11.5h-11.5zM462.5 667h6v11.5h-6zM556 667h23.5v11.5h-23.5zM325 678h11.5v11.5h-11.5zM341.5 678h6v11.5h-6zM352.5 678h6v11.5h-6zM556 678h6v11.5h-6zM314 689h6v11.5h-6zM330.5 689h6v11.5h-6zM341.5 689h17v11.5h-17zM550.5 689h11.5v11.5h-11.5zM314 700h6v11.5h-6zM341.5 700h11.5v11.5h-11.5zM517.5 700h6v11.5h-6zM539.5 700h40v11.5h-40zM347 711h6v11.5h-6zM506.5 711h17v11.5h-17zM528.5 711h51v11.5h-51zM308.5 722h6v11.5h-6zM501 722h78.5v11.5h-78.5zM347 733h11.5v11.5h-11.5zM501 733h17v11.5h-17zM523 733h56.5v11.5h-56.5zM330.5 744h17v11.5h-17zM550.5 744h29v11.5h-29zM336 755h6v11.5h-6zM479 755h6v11.5h-6zM539.5 755h40v11.5h-40zM484.5 766h17v11.5h-17zM506.5 766h11.5v11.5h-11.5zM523 766h56.5v11.5h-56.5zM347 777h6v11.5h-6zM490 777h28v11.5h-28zM523 777h56.5v11.5h-56.5zM495.5 788h11.5v11.5h-11.5zM517.5 788h62v11.5h-62zM512 799h67.5v23.5h-67.5z"/>
<path fill="#23b419" d="M336 205h11.5v11.5h-11.5zM325 216h17v11.5h-17zM314 227h22.5v11.5h-22.5zM314 238h28v11.5h-28zM314 249h11.5v11.5h-11.5zM330.5 249h17v11.5h-17zM314 260h6v11.5h-6zM325 260h22.5v11.5h-22.5zM291 271h23.5v11.5h-23.5zM319.5 271h28v11.5h-28zM291 282h29v11.5h-29zM336 282h6v11.5h-6zM291 293h23.5v11.5h-23.5zM291 304h23.5v11.5h-23.5zM341.5 315h11.5v11.5h-11.5zM336 326h22.5v11.5h-22.5zM291 337h23.5v11.5h-23.5zM336 337h17v11.5h-17zM291 348h29v11.5h-29zM325 348h11.5v11.5h-11.5zM352.5 348h6v11.5h-6zM473.5 348h6v11.5h-6zM291 359h45.5v11.5h-45.5zM347 359h11.5v11.5h-11.5zM462.5 359h11.5v11.5h-11.5zM291 370h45.5v11.5h-45.5zM347 370h11.5v11.5h-11.5zM468 370h6v11.5h-6zM291 381h40v11.5h-40zM341.5 381h17v11.5h-17zM291 392h34.5v11.5h-34.5zM347 392h11.5v11.5h-11.5zM291 403h18v11.5h-18zM314 403h11.5v11.5h-11.5zM347 403h6v11.5h-6zM319.5 414h6v11.5h-6zM396.5 436h6v11.5h-6zM352.5 447h6v11.5h-6zM396.5 447h6v11.5h-6zM330.5 491h6v11.5h-6zM341.5 491h6v11.5h-6zM319.5 502h17v11.5h-17zM325 513h6v11.5h-6zM391 546h6v11.5h-6zM369 568h22.5v11.5h-22.5zM369 579h17v11.5h-17zM374.5 590h17v11.5h-17zM440.5 590h6v11.5h-6zM363.5 612h6v11.5h-6zM352.5 623h11.5v11.5h-11.5zM462.5 623h6v11.5h-6zM495.5 623h6v11.5h-6zM358 634h11.5v11.5h-11.5zM446 634h6v11.5h-6zM457 634h11.5v11.5h-11.5zM336 645h6v11.5h-6zM347 645h17v11.5h-17zM435 645h6v11.5h-6zM446 645h22.5v11.5h-22.5zM336 656h6v11.5h-6zM347 656h11.5v11.5h-11.5zM435 656h33.5v11.5h-33.5zM336 667h17v11.5h-17zM440.5 667h22.5v11.5h-22.5zM336 678h6v11.5h-6zM347 678h6v11.5h-6zM325 689h6v11.5h-6zM336 689h6v11.5h-6zM325 700h17v11.5h-17zM352.5 700h6v11.5h-6zM330.5 711h17v11.5h-17zM330.5 722h11.5v11.5h-11.5zM347 722h11.5v11.5h-11.5zM330.5 733h17v11.5h-17zM517.5 733h6v11.5h-6zM319.5 744h11.5v11.5h-11.5zM347 744h6v11.5h-6zM325 755h11.5v11.5h-11.5zM341.5 755h6v11.5h-6zM506.5 755h11.5v11.5h-11.5zM325 766h22.5v11.5h-22.5zM501 766h6v11.5h-6zM517.5 766h6v11.5h-6zM325 777h6v11.5h-6zM336 777h11.5v11.5h-11.5zM517.5 777h6v11.5h-6zM325 788h11.5v11.5h-11.5zM512 788h6v11.5h-6zM314 799h17v23.5h-17z"/>
<path fill="#00c850" d="M402 216h11.5v11.5h-11.5zM391 227h22.5v11.5h-22.5zM484.5 359h6v11.5h-6zM473.5 370h11.5v11.5h-11.5zM468 381h6v11.5h-6zM479 381h6v11.5h-6zM418.5 403h6v11.5h-6zM413 414h11.5v11.5h-11.5zM451.5 414h6v11.5h-6zM451.5 425h11.5v11.5h-11.5zM418.5 436h6v11.5h-6zM385.5 447h11.5v11.5h-11.5zM402 458h17v11.5h-17zM402 469h6v11.5h-6zM462.5 469h6v11.5h-6zM407.5 535h6v11.5h-6zM385.5 579h6v11.5h-6zM369 590h6v11.5h-6zM506.5 590h6v11.5h-6zM490 612h6v11.5h-6zM501 612h6v11.5h-6zM490 623h6v11.5h-6zM319.5 700h6v11.5h-6zM308.5 711h11.5v11.5h-11.5zM325 711h6v11.5h-6zM291 722h18v11.5h-18zM314 722h17v11.5h-17zM341.5 722h6v11.5h-6zM291 733h40v11.5h-40zM291 744h29v11.5h-29zM291 755h34.5v11.5h-34.5zM291 766h34.5v11.5h-34.5zM291 777h29v11.5h-29zM330.5 777h6v11.5h-6zM291 788h18v11.5h-18zM314 788h11.5v11.5h-11.5zM291 799h23.5v23.5h-23.5z"/>
<path fill="#00dc96" d="M457 392h11.5v11.5h-11.5zM385.5 458h17v11.5h-17zM385.5 469h17v11.5h-17zM391 480h11.5v11.5h-11.5zM506.5 579h6v11.5h-6zM501 590h6v11.5h-6zM501 601h6v11.5h-6zM495.5 612h6v11.5h-6zM319.5 711h6v11.5h-6zM319.5 777h6v11.5h-6zM308.5 788h6v11.5h-6z"/>
<path fill="#00e6e6" d="M457 414h11.5v11.5h-11.5z"/>
<path fill="#96005a" d="M462.5 700h6v11.5h-6z"/>
</g>
<ellipse cx="378.3" cy="679.6" rx="5" ry="2.4" fill="#00a0f0" stroke="#9be11e" stroke-width="1.6"/>
<ellipse cx="396.2" cy="686.3" rx="4.4" ry="3" fill="#00a0f0" stroke="#9be11e" stroke-width="1.6"/>
<line x1="408.8" y1="83.5" x2="302.5" y2="240.2" stroke="#fff" stroke-width="1" stroke-opacity="0.92"/>
<line x1="568" y1="128" x2="302.5" y2="511" stroke="#fff" stroke-width="1" stroke-opacity="0.92"/>
<line x1="568" y1="398" x2="302.5" y2="770.5" stroke="#fff" stroke-width="1" stroke-opacity="0.92"/>
<line x1="568" y1="661.5" x2="464" y2="804" stroke="#fff" stroke-width="1" stroke-opacity="0.92"/>
<line x1="323.2" y1="83.5" x2="568" y2="249.6" stroke="#fff" stroke-width="1" stroke-opacity="0.92"/>
<line x1="302.5" y1="298.8" x2="568" y2="482.3" stroke="#fff" stroke-width="1" stroke-opacity="0.92"/>
<line x1="302.5" y1="527.2" x2="568" y2="713.5" stroke="#fff" stroke-width="1" stroke-opacity="0.92"/>
<line x1="302.5" y1="758" x2="367" y2="804" stroke="#fff" stroke-width="1" stroke-opacity="0.92"/>
<defs><filter id="rg" x="-2%" y="-2%" width="104%" height="104%"><feTurbulence type="fractalNoise" baseFrequency="0.3" numOctaves="2" seed="4" result="n"/><feDisplacementMap in="SourceGraphic" in2="n" scale="3" xChannelSelector="R" yChannelSelector="G"/></filter></defs>
<g fill="none" stroke="#000" stroke-linejoin="round" stroke-linecap="round">
<path stroke-width="0.9" d="M376.0 173.3L383.8 171.0L394.6 172.5L398.0 177.2L394.6 182.6L383.8 181.8L376.8 179.5ZM435.0 186.5L427.2 185.7L414.8 184.9L403.9 186.5L397.7 192.7L399.3 202.0L408.6 206.7L421.0 205.1L435.0 202.0M407.0 192.7L411.7 190.4L417.9 192.7L418.7 197.4L414.0 199.7L408.6 197.4ZM372.9 206.7L380.6 203.6L390.0 204.4L393.1 209.8L390.0 216.0M376.0 211.3L380.6 208.2L385.3 210.6L384.5 216.0M435.0 189.6L441.2 192.7L444.3 191.2L441.2 198.9L435.0 202.0M473.8 208.2L478.5 204.4L486.2 203.6L489.4 208.2L487.8 216.0M377.5 247.1L383.8 241.6L396.2 243.2L405.5 251.7L411.7 265.7L413.3 281.2L411.7 296.8L405.5 309.2L396.2 315.4L390.0 312.3L385.3 303.0L379.1 290.5L376.0 275.0L374.4 259.5ZM383.8 253.3L390.0 246.3L399.3 250.2L407.0 262.6L410.2 278.1L408.6 289.0L402.4 295.2L396.2 293.6L390.0 284.3L385.3 271.9L383.0 261.0ZM391.5 254.8L396.2 252.5L402.4 261.0L405.5 271.9L402.4 278.1L399.3 281.2L402.4 290.5L397.7 293.6L394.6 285.9L392.3 275.0L391.5 264.1ZM435.0 242.4L427.2 240.8L419.5 242.4L419.5 250.2L421.0 261.0L427.2 270.4L435.0 272.7M428.8 216.0L431.9 222.2L435.0 223.8M411.7 303.0L417.9 305.3L424.1 303.0L428.8 309.2L435.0 312.3M486.2 216.0L478.5 228.4L467.6 240.8L458.3 254.8L453.6 267.2L449.0 279.7L444.3 293.6L439.7 304.5L435.0 310.7M473.8 293.6L486.2 290.5L500.2 292.1L503.3 303.0L500.2 315.4L494.0 321.6L486.2 315.4L478.5 306.1ZM444.3 304.5L453.6 303.0L463.0 309.2L461.4 316.9L453.6 319.3L445.9 312.3ZM478.5 335.6L486.2 330.9L495.6 334.0L497.1 341.8L487.8 343.3L480.0 340.2ZM435.0 225.3L441.2 230.0L442.8 236.2L435.0 240.8M458.3 340.2L466.1 338.7L470.7 343.3L469.2 348.0M464.5 216.0L468.4 218.3L472.3 216.0M424.1 355.8L428.8 351.9L433.4 354.2L433.4 360.4L428.8 362.8L424.9 360.4ZM447.4 420.2L452.1 418.7L455.2 421.0L452.1 424.1L448.2 423.3ZM438.1 475.3L444.3 470.7L452.1 472.2L453.6 476.9L449.0 480.0M355.8 560.8L358.9 554.5L365.1 551.4L371.3 554.5L373.7 560.8L371.3 567.0L365.1 570.8L358.9 568.5ZM511.9 568.5L515.8 566.2L520.4 570.1L522.7 576.3L521.2 581.7L515.8 580.9L512.6 574.7ZM346.5 653.9L352.7 650.8L358.1 652.4L355.8 657.0L349.6 659.4ZM393.1 640.0L399.3 643.1L408.6 647.7L421.0 652.4L431.9 651.6L435.0 649.3M430.3 633.7L435.0 632.2M430.3 633.7L431.1 640.0L435.0 642.3M404.7 711.4L408.6 700.5L417.9 694.3L424.1 697.4L425.7 708.3L422.6 719.2L414.8 723.0L407.0 720.7ZM435.0 626.0L444.3 627.5L447.4 636.8L444.3 646.2L435.0 650.8M435.0 630.6L441.2 632.2L442.8 638.4L438.1 643.1L435.0 643.1M517.3 621.3L515.8 630.6L509.5 640.0L504.9 649.3L504.9 661.7L509.5 666.4L515.8 671.0L519.6 677.2L515.8 681.9L508.0 685.0L500.2 689.6L495.6 695.9L497.1 703.6L492.5 711.4L489.4 720.7L490.9 730.0L487.8 736.2L481.6 737.8L473.8 734.7L470.7 730.0L478.5 725.4L483.1 719.2M495.6 640.0L497.9 647.7L496.3 658.6L494.0 667.9L497.1 674.1L490.9 680.3L481.6 689.6L476.9 697.4L480.0 705.2L483.1 709.8L486.2 703.6L489.4 695.9M472.3 681.9L471.5 697.4L472.3 712.9L466.1 725.4L458.3 736.2L450.5 744.0M493.2 674.1L497.1 672.6L501.0 674.9L498.7 678.0L494.8 677.2ZM303.0 748.2L310.8 744.3L320.1 744.3L326.3 748.2L330.2 756.0L330.2 779.2L326.3 787.0L318.5 794.8L310.8 799.4L306.1 804.1M380.6 804.1L385.3 797.9L390.0 797.9L393.1 801.0L391.5 804.1M431.9 804.1L435.0 794.8M470.7 728.0L473.8 732.7L480.0 735.8L484.7 734.2L486.2 728.0M458.3 743.5L450.5 751.3L449.0 759.1L453.6 766.8L459.8 768.4L464.5 762.2L463.0 751.3ZM487.8 743.5L476.9 746.6L469.2 759.1L463.0 774.6L458.3 790.1L447.4 794.8L435.0 793.2M459.8 804.1L458.3 790.1L466.1 779.2"/>
<path stroke-width="2.1" d="M404.7 84.0L403.6 99.5L402.7 115.1L402.1 130.6L399.6 143.0L394.6 152.3L386.9 159.3L380.6 161.6L377.2 158.5L373.2 155.4L369.8 157.3L369.0 161.6L370.1 171.0L371.0 183.4L371.3 192.7L370.6 202.0L371.3 216.0M371.3 216.0L371.3 231.5L371.0 247.1L372.1 262.6L373.2 278.1L374.4 293.6L375.2 309.2L376.0 324.7L376.3 348.0M376.3 348.0L376.3 363.5L376.8 379.1L376.0 394.6L373.7 410.1L369.8 422.5L366.7 431.9L369.8 436.5L377.5 439.6L385.3 438.8L388.4 435.0L390.0 425.6L392.3 417.9L391.5 410.1L390.0 399.2L388.4 388.4L387.6 379.1L390.0 371.3L392.3 365.1L391.5 360.4M371.3 480.0L370.6 466.0L371.3 455.2L374.4 449.7L380.6 448.9L385.3 450.5L386.9 456.7L385.3 466.0L383.8 472.2L383.0 480.0M371.3 480.0L371.0 495.5L369.8 511.1L367.4 526.6L363.6 542.1L358.9 554.5L354.2 567.0L351.1 571.6L354.2 574.0L360.5 573.2L368.2 574.7L374.4 573.2L380.6 571.6L386.9 573.2L391.5 576.3L390.0 582.5L394.6 580.9L402.4 582.5L411.7 579.4L417.9 576.3L421.0 573.2M354.2 576.3L351.9 588.7L350.4 601.1L348.8 612.0M348.0 612.0L345.7 627.5L343.4 640.0L336.4 647.7L334.1 658.6L329.4 674.1L326.3 683.4L321.6 697.4L317.0 708.3L313.1 719.2L307.7 719.2L303.0 718.4"/>
<g filter="url(#rg)">
<path stroke-width="2.3" d="M423.4 84.0L425.7 93.3L422.9 101.1L421.0 110.4L423.4 119.7L427.2 125.9L432.7 129.0L435.0 129.3M418.7 92.5L417.6 99.5L418.7 105.7L421.0 101.1L419.8 94.9M414.8 135.2L421.0 132.1L428.8 130.6L432.2 133.7L431.1 141.5L425.7 147.7L417.9 149.2L412.5 144.6L411.7 138.4ZM435.0 125.9L444.3 129.0L452.1 128.3L455.2 124.4L452.4 117.4L451.3 115.1M455.2 124.4L458.3 130.6L459.1 136.8L453.6 137.6L445.9 135.2L441.2 137.6L438.1 144.6L437.3 152.3L441.2 158.5L447.4 162.4L453.6 161.6L458.3 158.5L463.0 160.1L464.5 164.8L468.4 168.6L470.7 174.1L473.8 174.8L476.2 177.2L475.4 183.4L478.5 186.5L484.7 183.4L487.0 189.6L486.2 195.8L492.5 198.9L497.1 203.6L503.3 202.0L508.0 204.4L504.9 208.2L500.2 209.8L497.1 216.0M452.1 167.9L450.5 172.5M444.3 117.4L445.9 117.9M494.0 216.0L491.7 222.2L493.2 226.9L497.1 229.2L503.3 230.8L508.0 234.6L506.4 240.8L508.0 245.5L503.3 247.1L498.7 245.5L494.0 247.1L494.8 253.3L492.5 257.9L490.9 264.1L487.8 270.4L492.5 273.5L497.1 276.6L503.3 282.8L506.4 278.1L504.9 273.5L508.0 268.8L514.2 270.4L518.9 267.2L515.8 262.6L509.5 261.0L515.8 264.1L522.0 268.8L528.2 265.7L535.9 266.5L531.3 270.4L525.1 271.9L522.0 276.6L517.3 278.1L515.8 285.9L512.6 290.5L514.2 296.8L518.9 299.9L515.8 304.5L512.6 309.2L513.4 316.9L515.8 324.7L514.2 330.9L511.1 334.0L512.6 340.2L515.8 348.0M391.5 394.6L396.2 397.7L399.3 405.5L400.8 414.8L402.4 422.5L405.5 427.2L411.7 428.8L416.4 425.6M390.0 445.8L396.2 444.3L402.4 447.4L403.9 455.2L408.6 456.7L414.8 453.6L417.9 456.7L414.8 462.9L411.7 469.1L408.6 473.8L403.9 480.0M391.5 447.4L396.2 441.2L402.4 438.1L408.6 431.9M486.2 383.7L481.6 386.8L475.4 387.6L470.7 389.9L467.6 396.1L464.5 405.5L463.7 413.2L466.1 421.0L471.5 424.1L469.2 430.3L466.1 435.0L466.8 444.3L466.1 456.7L467.6 469.1L472.3 476.9L475.4 480.0M494.8 420.2L498.7 419.4L501.8 425.6L498.7 428.0L495.6 424.1ZM355.8 575.5L363.6 577.1L369.8 582.5L371.3 588.7L366.7 594.9L365.1 601.1L363.6 608.9L362.0 612.0M368.2 604.2L377.5 602.7L386.9 604.2L393.1 602.7L396.2 604.2L397.7 612.0M431.9 508.0L427.2 511.1L424.1 518.8L427.2 515.7L425.7 526.6L421.0 534.4L417.9 545.2L414.8 554.5L410.2 560.8L411.7 568.5L417.9 571.6L422.6 576.3L421.0 580.9M394.6 549.9L399.3 548.3L403.9 553.0L411.7 554.5L414.8 559.2L410.2 563.9L402.4 560.8L396.2 563.9L393.1 557.6ZM422.6 560.8L427.2 558.4L431.9 560.8L431.9 567.0L427.2 570.1L422.6 567.0ZM430.3 563.9L435.0 562.3M458.3 500.2L464.5 497.1L468.4 503.3L466.1 511.1L461.4 512.6L458.3 506.4ZM435.0 529.7L439.7 531.2L442.8 533.6L438.1 535.9L435.0 535.1M435.0 576.3L441.2 573.2L447.4 579.4L452.1 582.5L458.3 580.9L466.1 584.0L470.7 580.9L468.4 588.7L463.0 591.8L458.3 598.0L453.6 604.2L455.2 612.0M435.0 596.5L439.7 601.1L438.1 608.9L435.0 612.0M509.5 567.0L514.2 559.2L520.4 556.9L526.6 560.8L528.2 567.0L532.8 573.2L535.9 582.5L532.8 588.7L529.7 598.0L528.2 604.2L523.5 612.0M509.5 567.0L511.1 576.3L514.2 582.5L515.8 588.7L512.6 593.4L508.0 598.0L503.3 604.2L501.8 612.0M540.6 515.7L543.7 508.0L549.9 503.3L557.7 500.2L563.9 495.5L567.0 494.0M540.6 515.7L543.7 517.3L548.4 523.5L549.9 531.2L553.0 539.0L551.5 546.8L556.1 553.0L562.3 551.4L565.4 545.2L563.9 537.5L567.0 531.2M510.3 490.9L514.2 487.0L520.4 487.0L523.5 490.9L520.4 497.1L514.2 498.6ZM343.4 640.0L349.6 638.4L353.5 641.5L349.6 645.4L344.9 644.6M369.8 691.2L372.9 685.8L380.6 686.5L376.0 689.6ZM394.6 692.8L397.7 689.6L403.2 692.8L401.6 699.0L400.8 704.4L396.2 702.8L393.8 699.0ZM445.9 612.0L450.5 618.2L452.1 627.5L450.5 638.4L444.3 649.3L439.7 658.6L438.1 666.4L441.2 674.1L449.0 678.8L458.3 681.1L466.1 680.3L470.7 677.2L473.8 671.0L478.5 664.8L483.1 658.6L484.7 650.8L485.5 643.1L483.9 635.3L484.7 627.5L486.2 622.9M522.0 621.3L528.2 624.4L535.9 627.5L543.7 629.1L549.9 632.2L551.5 638.4L546.8 640.0L540.6 638.4L534.4 640.0L528.2 643.1L523.5 646.2L518.9 647.7L515.8 652.4L517.3 657.0L525.1 652.4L531.3 649.3L535.9 652.4L537.5 658.6L534.4 664.8L532.8 671.0L529.7 675.7L525.1 680.3L522.0 685.0L518.9 689.6L522.0 692.8L518.9 699.0L514.2 703.6L509.5 706.7L504.9 711.4L503.3 717.6L500.2 723.8L498.7 730.0L497.1 744.0M498.7 728.0L497.1 737.3L492.5 745.1L490.1 752.8L489.4 762.2L484.7 763.7L480.0 766.8L476.9 773.0L472.3 774.6L470.7 780.8L468.4 790.1L467.6 797.9L466.1 804.1M489.4 762.2L489.4 774.6L488.6 787.0L489.4 804.1M536.7 763.7L542.2 759.8L546.0 763.7L542.2 766.8L538.3 768.4Z"/>
<path stroke-width="2.6" d="M410.2 145.3L418.7 151.1M371.3 184.9L377.5 183.4M463.7 193.5L467.6 195.0L472.3 193.5L475.4 195.8L470.7 198.9L466.8 199.7L467.6 202.0M396.2 223.0L400.1 226.9L396.2 230.0M379.1 216.0L386.9 219.1L391.5 216.8M487.8 234.6L494.0 233.1L500.2 236.2L497.1 240.8L492.5 244.0L497.1 247.1L501.8 248.6M486.2 242.4L490.9 240.8L495.6 237.7M487.8 270.4L494.0 268.8L498.7 264.1L503.3 267.2L500.2 273.5L495.6 275.0L501.8 278.1M490.9 262.6L497.1 261.0L503.3 262.6L509.5 265.7L515.8 268.8M512.6 290.5L518.9 293.6L522.0 292.1M411.7 403.9L417.9 402.4L422.6 407.0L417.9 410.1L421.0 414.8L416.4 416.3L411.7 413.2L408.6 408.6ZM414.8 410.1L417.9 421.0L416.4 428.8L421.0 431.9L427.2 428.8L433.4 427.2M410.2 428.8L414.8 435.0L411.7 441.2L417.9 442.7L424.1 439.6L430.3 441.2L435.0 444.3M424.1 425.6L427.2 435.0L431.9 447.4M459.8 368.2L466.1 362.0L472.3 357.3L476.9 358.9L473.8 365.1L478.5 372.8L481.6 379.1L486.2 383.7M461.4 435.0L466.1 432.6L468.4 428.8M486.2 383.7L489.4 393.0L494.0 393.0L497.1 379.1L501.8 372.8L503.3 368.2L498.7 372.8M481.6 371.3L486.2 374.4L484.7 377.5M500.2 348.0L503.3 352.7L512.6 354.2L515.8 348.0M546.8 443.5L547.1 444.3M549.9 449.7L553.8 448.9M550.7 459.0L554.6 457.9M551.5 351.9L555.4 348.8M435.0 447.4L438.9 450.5M380.6 487.8L383.8 495.5L390.0 503.3L394.6 495.5L402.4 489.3L403.9 480.0M383.8 484.7L390.0 489.3L396.2 486.2M390.0 588.7L396.2 587.2L402.4 590.3M435.0 503.3L441.2 498.6L447.4 494.0L455.2 489.3L463.0 486.2L470.7 483.1L475.4 480.0M435.0 489.3L441.2 486.2L444.3 481.6M445.9 514.2L450.5 513.4M449.0 536.7L449.3 539.8M435.0 560.8L441.2 562.3L445.9 559.2M543.7 506.4L549.9 511.1L553.0 506.4M522.7 548.0L523.1 548.6M494.0 605.8L501.8 602.7L503.3 594.9L501.8 588.7M486.2 622.9L494.0 629.1L501.8 627.5L506.4 624.4L508.0 615.1M522.0 612.0L525.1 618.2L522.0 621.3M554.6 616.7L559.2 613.6L563.9 616.7M557.7 640.0L559.2 644.6M553.0 695.9L557.7 699.0L559.2 696.6M515.8 686.5L522.0 685.0M525.1 700.5L531.3 698.2M511.1 705.2L515.8 703.6M499.0 789.5L499.3 790.1M415.0 432.5L425.0 429.0L434.7 428.2M417.8 442.4L428.0 447.0L439.0 449.4M406.5 432.5L399.0 440.0L392.4 446.6M380.0 476.0L384.0 486.0L381.0 496.0L388.0 503.0M384.0 480.0L392.0 490.0"/>
<path stroke-width="3.6" d="M372.6 239.3L379.1 235.4L385.3 231.5L391.5 227.2L397.0 223.8M501.8 409.3L508.0 413.2L514.2 417.1M318.5 723.8L324.7 726.9L329.4 726.1M359.7 613.6L364.3 615.1M488.6 619.8L494.0 622.9L500.2 619.8L504.9 616.7M463.0 695.9L467.9 683.4M481.6 766.8L483.1 774.6L475.4 779.2L481.6 783.9L472.3 790.1L481.6 793.2L473.8 797.9L484.7 801.0L478.5 804.1M413.6 402.8L412.1 414.1L415.0 428.2L413.6 442.4"/>
<path stroke-width="1.7" d="M397.7 223.0L393.9 227.2L396.1 227.4L389.1 231.9L386.3 234.5L384.6 234.3L379.4 237.2L381.5 234.3L378.1 235.6L380.8 232.0L383.9 229.0L386.4 228.9L391.3 225.2L392.6 226.1ZM507.7 238.7L505.1 241.1L503.8 243.5L503.5 244.9L499.5 245.7L494.8 244.1L491.0 245.1L493.4 241.3L485.9 241.8L487.6 239.2L488.9 236.9L491.2 235.3L492.2 234.2L496.6 234.2L499.9 231.3L503.2 232.9L505.7 234.0L507.5 236.5ZM502.0 239.8L499.2 241.1L499.4 243.7L494.8 243.7L492.8 242.1L494.1 240.0L492.9 238.2L494.8 236.0L499.6 235.8L499.4 239.0ZM517.6 270.7L516.3 274.2L515.2 277.0L509.5 274.8L506.3 280.2L501.9 274.5L500.0 279.2L496.9 277.2L494.6 277.8L489.4 276.4L489.0 272.1L495.3 270.0L489.6 267.7L488.2 266.3L492.2 264.2L497.6 260.8L498.3 259.3L503.7 262.0L507.4 259.8L512.9 262.7L514.1 266.4L508.2 268.9ZM504.8 271.7L500.4 272.6L501.7 275.7L497.2 276.3L493.6 276.5L491.6 274.1L490.3 270.8L491.9 268.7L493.0 266.5L497.5 268.1L501.4 266.3L500.9 269.8ZM522.8 294.9L519.8 296.6L520.6 300.8L518.6 300.0L516.1 301.3L516.4 296.8L512.2 295.4L515.6 293.8L515.2 288.4L518.2 290.9L520.9 290.7L520.8 293.7ZM423.9 410.1L421.7 413.0L420.8 415.8L416.5 415.1L415.3 419.4L413.7 416.7L410.4 418.3L412.3 413.1L409.0 412.0L408.6 407.7L411.0 405.8L412.0 402.3L414.6 402.0L417.7 404.0L420.8 404.1L421.2 408.1ZM434.0 437.2L434.2 439.3L432.7 441.7L424.4 440.3L424.5 445.9L422.3 442.6L416.1 444.2L418.2 439.5L413.2 440.3L410.1 437.3L410.5 433.9L414.0 432.6L415.9 431.1L421.3 429.8L424.1 430.1L425.2 433.6L432.0 430.9L433.6 433.6ZM481.0 367.9L479.5 371.8L477.7 374.2L471.7 376.5L468.6 375.1L464.2 375.3L463.0 371.6L464.1 365.7L462.1 363.4L467.7 361.7L468.2 356.7L472.9 360.0L475.9 358.1L474.0 364.4ZM398.8 491.4L393.7 494.3L395.2 500.0L391.3 499.0L388.8 501.3L386.7 496.7L381.5 496.6L381.1 491.3L382.8 489.2L386.3 486.1L387.2 482.6L392.7 483.3L394.3 484.8L397.5 486.4ZM411.6 556.5L407.7 558.4L407.5 562.3L402.6 558.9L399.0 561.3L398.6 557.9L394.5 556.8L396.6 553.9L398.3 551.7L401.8 551.4L406.6 550.1L407.4 554.4ZM456.3 498.3L452.5 500.5L453.9 504.2L449.8 504.3L447.3 505.7L444.3 501.8L438.4 503.3L435.1 501.1L434.0 499.3L438.0 495.6L437.6 494.1L443.8 494.6L445.1 491.5L449.0 491.7L452.8 493.1L456.4 495.8ZM448.9 563.9L444.0 566.0L442.9 569.7L440.2 566.0L436.4 567.6L437.5 563.6L435.9 560.8L439.7 558.0L443.5 557.6L446.1 560.1ZM329.6 725.9L328.1 728.1L325.9 728.7L323.4 727.7L320.0 727.6L321.3 726.1L319.6 724.5L323.1 723.7L324.8 723.3L328.0 724.1ZM506.3 619.8L505.2 623.4L502.5 624.3L498.2 625.2L495.6 626.4L492.2 624.7L490.5 623.3L491.9 620.1L488.2 618.3L494.8 618.5L495.2 614.8L498.0 615.9L501.5 616.1L500.7 619.0ZM526.6 648.3L523.9 649.2L522.8 651.8L520.0 651.6L516.3 650.6L518.6 647.9L518.0 644.8L520.9 645.4L524.5 642.7L524.4 646.4ZM486.8 774.8L482.6 776.5L483.9 782.4L479.9 778.4L477.6 782.3L474.6 782.0L473.0 776.7L473.1 773.9L472.7 771.5L476.2 769.9L477.9 765.9L480.1 766.8L485.7 768.0L481.8 773.3ZM485.5 793.1L482.0 796.6L483.0 800.4L479.8 799.5L476.6 804.0L475.7 798.6L471.2 801.7L474.0 794.4L467.3 791.6L470.8 789.8L471.5 788.0L475.7 789.8L476.2 784.3L478.4 786.6L483.4 785.4L483.4 790.2ZM485.1 783.8L481.4 786.9L483.2 793.0L480.8 796.8L477.7 797.8L476.2 793.0L474.6 791.1L473.5 785.4L473.4 779.1L475.8 775.5L477.8 770.9L479.9 779.3L482.5 770.3L481.3 781.5Z"/>
</g></g>
<line x1="330.0" y1="111.6" x2="540.1" y2="111.6" stroke="#fff" stroke-width="1.9" stroke-dasharray="19.7 3.75" stroke-dashoffset="-0.10"/>
<line x1="330.0" y1="775.9" x2="540.1" y2="775.9" stroke="#fff" stroke-width="1.9" stroke-dasharray="19.7 3.75" stroke-dashoffset="2.00"/>
<line x1="330.9" y1="111.6" x2="330.9" y2="775.9" stroke="#fff" stroke-width="1.9" stroke-dasharray="19.7 3.75" stroke-dashoffset="2.40"/>
<line x1="539.2" y1="111.6" x2="539.2" y2="775.9" stroke="#fff" stroke-width="1.9" stroke-dasharray="19.7 3.75" stroke-dashoffset="5.90"/>
<circle cx="467.9" cy="190.4" r="2.7" fill="#fff"/>
<text x="474.2" y="194.6" font-size="12" fill="#fff" stroke="#fff" stroke-width="0.3" textLength="33" lengthAdjust="spacingAndGlyphs">Totara</text>
<circle cx="440.4" cy="263.4" r="2.7" fill="#fff"/>
<text x="446.7" y="267.6" font-size="12" fill="#fff" stroke="#fff" stroke-width="0.3" textLength="42" lengthAdjust="spacingAndGlyphs">Kaikohe</text>
<circle cx="428.8" cy="303" r="2.7" fill="#fff"/>
<text x="435.1" y="307.2" font-size="12" fill="#fff" stroke="#fff" stroke-width="0.3" textLength="6.5" lengthAdjust="spacingAndGlyphs">3</text>
<circle cx="394.9" cy="319.7" r="2.7" fill="#fff"/>
<text x="401.2" y="323.9" font-size="12" fill="#fff" stroke="#fff" stroke-width="0.3" textLength="36.5" lengthAdjust="spacingAndGlyphs">Rocket</text>
<circle cx="490.9" cy="313" r="2.7" fill="#fff"/>
<text x="497.2" y="317.2" font-size="12" fill="#fff" stroke="#fff" stroke-width="0.3" textLength="56.7" lengthAdjust="spacingAndGlyphs">Whangarei</text>
<circle cx="474.1" cy="364.8" r="2.7" fill="#fff"/>
<text x="480.4" y="369.0" font-size="12" fill="#fff" stroke="#fff" stroke-width="0.3" textLength="35" lengthAdjust="spacingAndGlyphs">NZWR</text>
<circle cx="428.8" cy="489" r="2.7" fill="#fff"/>
<text x="435.1" y="493.2" font-size="12" fill="#fff" stroke="#fff" stroke-width="0.3" textLength="31" lengthAdjust="spacingAndGlyphs">Moir's</text>
<circle cx="400.5" cy="544" r="2.7" fill="#fff"/>
<text x="406.8" y="548.2" font-size="12" fill="#fff" stroke="#fff" stroke-width="0.3" textLength="59" lengthAdjust="spacingAndGlyphs">Whenuapai</text>
<circle cx="394.9" cy="590.6" r="2.7" fill="#fff"/>
<text x="401.2" y="594.8" font-size="12" fill="#fff" stroke="#fff" stroke-width="0.3" textLength="31.5" lengthAdjust="spacingAndGlyphs">NZAA</text>
<circle cx="406.3" cy="622.9" r="2.7" fill="#fff"/>
<text x="412.6" y="627.1" font-size="12" fill="#fff" stroke="#fff" stroke-width="0.3" textLength="28" lengthAdjust="spacingAndGlyphs">Drury</text>
<circle cx="473.8" cy="680.3" r="2.7" fill="#fff"/>
<text x="480.1" y="684.5" font-size="12" fill="#fff" stroke="#fff" stroke-width="0.3" textLength="41" lengthAdjust="spacingAndGlyphs">Thames</text>
<circle cx="468.1" cy="719.6" r="2.7" fill="#fff"/>
<text x="474.4" y="723.8" font-size="12" fill="#fff" stroke="#fff" stroke-width="0.3" textLength="33.5" lengthAdjust="spacingAndGlyphs">Jake's</text>
<circle cx="457.2" cy="753.9" r="2.7" fill="#fff"/>
<text x="463.5" y="758.1" font-size="12" fill="#fff" stroke="#fff" stroke-width="0.3" textLength="12.5" lengthAdjust="spacingAndGlyphs">Te</text>
<circle cx="310.3" cy="719.1" r="2.7" fill="#fff"/>
<text x="316.6" y="723.3" font-size="12" fill="#fff" stroke="#fff" stroke-width="0.3" textLength="36" lengthAdjust="spacingAndGlyphs">Raglan</text>
</g>
<rect x="302.5" y="83.5" width="265.2" height="720.4" fill="none" stroke="#000" stroke-width="1.2"/>
<text x="382.9" y="86.5" font-size="12.3" stroke="#000" stroke-width="0.3" textLength="27.2" lengthAdjust="spacingAndGlyphs">173E</text>
<text x="568.6" y="251.4" font-size="12.3" stroke="#000" stroke-width="0.3" textLength="21.5" lengthAdjust="spacingAndGlyphs">35S</text>
<text x="292" y="313" font-size="12.3" stroke="#000" stroke-width="0.3" textLength="21.5" lengthAdjust="spacingAndGlyphs">36S</text>
<text x="550.6" y="470.8" font-size="12.3" stroke="#000" stroke-width="0.3" textLength="21.5" lengthAdjust="spacingAndGlyphs">36S</text>
<text x="320.8" y="562.4" font-size="12.3" stroke="#000" stroke-width="0.3" textLength="21.5" lengthAdjust="spacingAndGlyphs">37S</text>
<text x="528.8" y="688.2" font-size="12.3" stroke="#000" stroke-width="0.3" textLength="21.5" lengthAdjust="spacingAndGlyphs">37S</text>
<text x="300" y="779.1" font-size="12.3" stroke="#000" stroke-width="0.3" textLength="21.5" lengthAdjust="spacingAndGlyphs">38S</text>
<rect x="412.5" y="806.3" width="155.2" height="18" fill="#fff" stroke="#000" stroke-width="1"/>
<text x="490.2" y="820.2" font-size="12.6" text-anchor="middle" stroke="#000" stroke-width="0.3" textLength="146" lengthAdjust="spacingAndGlyphs">Terrain contours: 500 ft</text>
<rect x="91.00" y="828.5" width="38.47" height="7.0" fill="#0000f0"/>
<rect x="129.17" y="828.5" width="38.47" height="7.0" fill="#0050f0"/>
<rect x="167.33" y="828.5" width="38.47" height="7.0" fill="#00a0f0"/>
<rect x="205.50" y="828.5" width="38.47" height="7.0" fill="#00f0e6"/>
<rect x="243.67" y="828.5" width="38.47" height="7.0" fill="#00dc96"/>
<rect x="281.83" y="828.5" width="38.47" height="7.0" fill="#00c850"/>
<rect x="320.00" y="828.5" width="38.47" height="7.0" fill="#14b414"/>
<rect x="358.17" y="828.5" width="38.47" height="7.0" fill="#78d214"/>
<rect x="396.33" y="828.5" width="38.47" height="7.0" fill="#c8e614"/>
<rect x="434.50" y="828.5" width="38.47" height="7.0" fill="#f5f000"/>
<rect x="472.67" y="828.5" width="38.47" height="7.0" fill="#fac800"/>
<rect x="510.83" y="828.5" width="38.47" height="7.0" fill="#ffa000"/>
<rect x="549.00" y="828.5" width="38.47" height="7.0" fill="#ff7800"/>
<rect x="587.17" y="828.5" width="38.47" height="7.0" fill="#ff4600"/>
<rect x="625.33" y="828.5" width="38.47" height="7.0" fill="#ff0a00"/>
<rect x="663.50" y="828.5" width="38.47" height="7.0" fill="#d20028"/>
<rect x="701.67" y="828.5" width="38.47" height="7.0" fill="#a0005a"/>
<rect x="739.83" y="828.5" width="38.47" height="7.0" fill="#5a0096"/>
<line x1="129.17" y1="828.5" x2="129.17" y2="835.5" stroke="#000" stroke-width="0.7"/>
<line x1="167.33" y1="828.5" x2="167.33" y2="835.5" stroke="#000" stroke-width="0.7"/>
<line x1="205.50" y1="828.5" x2="205.50" y2="835.5" stroke="#000" stroke-width="0.7"/>
<line x1="243.67" y1="828.5" x2="243.67" y2="835.5" stroke="#000" stroke-width="0.7"/>
<line x1="281.83" y1="828.5" x2="281.83" y2="835.5" stroke="#000" stroke-width="0.7"/>
<line x1="320.00" y1="828.5" x2="320.00" y2="835.5" stroke="#000" stroke-width="0.7"/>
<line x1="358.17" y1="828.5" x2="358.17" y2="835.5" stroke="#000" stroke-width="0.7"/>
<line x1="396.33" y1="828.5" x2="396.33" y2="835.5" stroke="#000" stroke-width="0.7"/>
<line x1="434.50" y1="828.5" x2="434.50" y2="835.5" stroke="#000" stroke-width="0.7"/>
<line x1="472.67" y1="828.5" x2="472.67" y2="835.5" stroke="#000" stroke-width="0.7"/>
<line x1="510.83" y1="828.5" x2="510.83" y2="835.5" stroke="#000" stroke-width="0.7"/>
<line x1="549.00" y1="828.5" x2="549.00" y2="835.5" stroke="#000" stroke-width="0.7"/>
<line x1="587.17" y1="828.5" x2="587.17" y2="835.5" stroke="#000" stroke-width="0.7"/>
<line x1="625.33" y1="828.5" x2="625.33" y2="835.5" stroke="#000" stroke-width="0.7"/>
<line x1="663.50" y1="828.5" x2="663.50" y2="835.5" stroke="#000" stroke-width="0.7"/>
<line x1="701.67" y1="828.5" x2="701.67" y2="835.5" stroke="#000" stroke-width="0.7"/>
<line x1="739.83" y1="828.5" x2="739.83" y2="835.5" stroke="#000" stroke-width="0.7"/>
<rect x="91.0" y="828.5" width="687.0" height="7.0" fill="none" stroke="#000" stroke-width="0.6"/>
<text x="106.67" y="851.4" font-size="17.4" textLength="45" lengthAdjust="spacingAndGlyphs" stroke="#000" stroke-width="0.25">-6000</text>
<text x="183.00" y="851.4" font-size="17.4" textLength="45" lengthAdjust="spacingAndGlyphs" stroke="#000" stroke-width="0.25">-5000</text>
<text x="259.33" y="851.4" font-size="17.4" textLength="45" lengthAdjust="spacingAndGlyphs" stroke="#000" stroke-width="0.25">-4000</text>
<text x="335.67" y="851.4" font-size="17.4" textLength="45" lengthAdjust="spacingAndGlyphs" stroke="#000" stroke-width="0.25">-3000</text>
<text x="412.00" y="851.4" font-size="17.4" textLength="45" lengthAdjust="spacingAndGlyphs" stroke="#000" stroke-width="0.25">-2000</text>
<text x="488.33" y="851.4" font-size="17.4" textLength="45" lengthAdjust="spacingAndGlyphs" stroke="#000" stroke-width="0.25">-1000</text>
<text x="582.17" y="851.4" font-size="17.4" textLength="10" lengthAdjust="spacingAndGlyphs" stroke="#000" stroke-width="0.25">0</text>
<text x="643.75" y="851.4" font-size="17.4" textLength="39.5" lengthAdjust="spacingAndGlyphs" stroke="#000" stroke-width="0.25">1000</text>
<text x="720.08" y="851.4" font-size="17.4" textLength="39.5" lengthAdjust="spacingAndGlyphs" stroke="#000" stroke-width="0.25">2000</text>
<text x="56.5" y="844.6" font-size="17.4" textLength="18.2" lengthAdjust="spacingAndGlyphs" stroke="#000" stroke-width="0.25">[ft]</text>
<text x="795.2" y="844.6" font-size="17.4" textLength="18.2" lengthAdjust="spacingAndGlyphs" stroke="#000" stroke-width="0.25">[ft]</text>
</svg></body></html>
